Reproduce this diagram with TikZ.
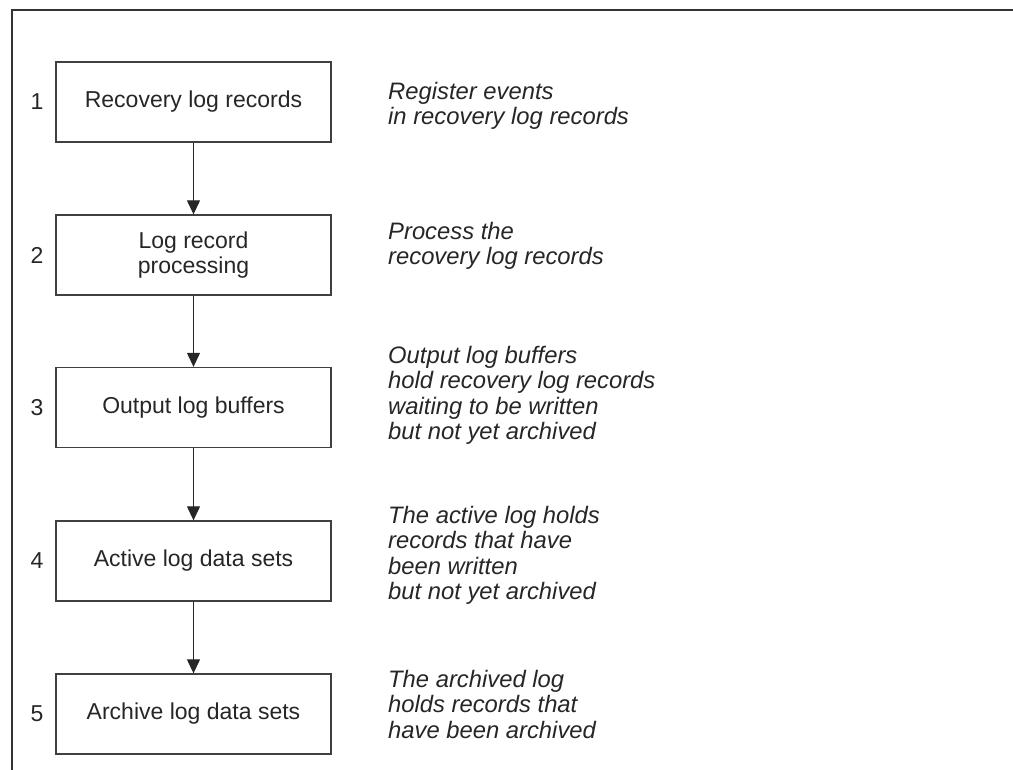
\documentclass[tikz,border=0pt]{standalone}
\usepackage{fontspec}
\setmainfont{Liberation Sans}
\usetikzlibrary{arrows.meta}
\begin{document}
\begin{tikzpicture}[x=1pt,y=-1pt,
  every node/.style={font=\fontsize{23}{25.4}\selectfont, text=black!85},
  stepbox/.style={draw=black!75, line width=1.3pt, minimum width=275pt, minimum height=80pt, align=center, inner sep=0pt},
  desc/.style={anchor=north west, align=left, inner sep=0pt, font=\fontsize{23.8}{25.4}\selectfont\itshape},
  num/.style={inner sep=0pt},
  flow/.style={draw=black!85, line width=1.1pt, -{Triangle[width=13pt,length=14pt]}},
  frameline/.style={draw=black!80, line width=1.8pt}]
\useasboundingbox (0,0) rectangle (1013,770);
% frame
\coordinate (fbl) at (12,770);
\coordinate (ftl) at (12,10);
\coordinate (ftr) at (1013,10);
\draw[frameline] (fbl) -- (ftl) -- (ftr);
% boxes
\node[stepbox] (b1) at (193.5,102) {Recovery log records};
\node[stepbox] (b2) at (193.5,255) {Log record\\processing};
\node[stepbox] (b3) at (193.5,407.5) {Output log buffers};
\node[stepbox] (b4) at (193.5,561) {Active log data sets};
\node[stepbox] (b5) at (193.5,714) {Archive log data sets};
% numbers
\node[num] (n1) at (37,102) {1};
\node[num] (n2) at (37,255) {2};
\node[num] (n3) at (37,407.5) {3};
\node[num] (n4) at (37,561) {4};
\node[num] (n5) at (37,714) {5};
% arrows
\draw[flow] (b1) -- (b2);
\draw[flow] (b2) -- (b3);
\draw[flow] (b3) -- (b4);
\draw[flow] (b4) -- (b5);
% descriptions
\node[desc] (d1) at (388,82) {Register events\\in recovery log records};
\node[desc] (d2) at (388,222) {Process the\\recovery log records};
\node[desc] (d3) at (388,346) {Output log buffers\\hold recovery log records\\waiting to be written\\but not yet archived};
\node[desc] (d4) at (388,506) {The active log holds\\records that have\\been written\\but not yet archived};
\node[desc] (d5) at (388,670) {The archived log\\holds records that\\have been archived};
\end{tikzpicture}
\end{document}
